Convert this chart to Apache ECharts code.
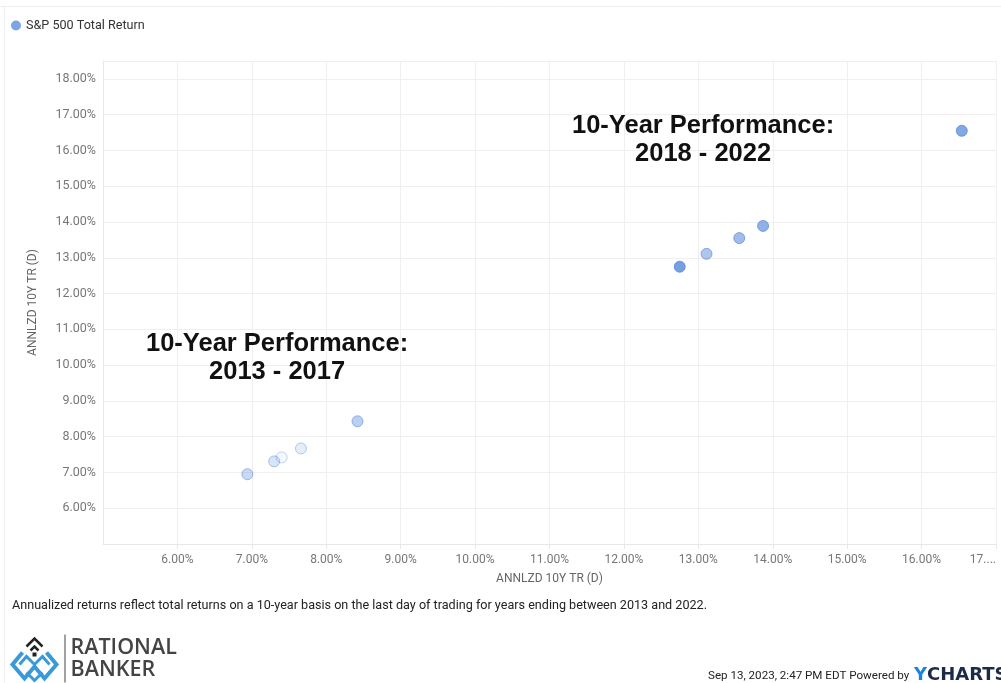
<!DOCTYPE html>
<html>
<head>
<meta charset="utf-8">
<script src="https://cdn.jsdelivr.net/npm/echarts@6/dist/echarts.min.js"></script>
<style>
  html, body { margin: 0; padding: 0; background: #fff; }
  #chartDom { width: 1001px; height: 683px; }
</style>
</head>
<body>
<div id="chartDom"></div>
<script>
// 年份 2013 - 2022（越新越不透明）
const years = [2013, 2014, 2015, 2016, 2017, 2018, 2019, 2020, 2021, 2022];
// x / y 都是 10 年年化总回报 (%)
const xReturn = [7.40, 7.66, 7.30, 6.94, 8.42, 13.11, 13.55, 13.87, 16.54, 12.75];
const yReturn = [7.42, 7.67, 7.31, 6.95, 8.43, 13.11, 13.55, 13.89, 16.55, 12.75];

const seriesName = 'S&P 500 Total Return';
const axisName = 'ANNLZD 10Y TR (D)';
const noteText = 'Annualized returns reflect total returns on a 10-year basis on the last day of trading for years ending between 2013 and 2022.';

const baseColor = '#4f84d9';
const font = 'Roboto';

let chart = echarts.init(document.getElementById('chartDom'));

const points = years.map((y, i) => ({
  name: String(y),
  value: [xReturn[i], yReturn[i]],
  itemStyle: {
    color: 'rgba(79,132,217,' + (0.08 + 0.1 * i).toFixed(2) + ')',
    borderColor: 'rgba(79,132,217,' + Math.min(1, 0.45 + 0.06 * i).toFixed(2) + ')',
    borderWidth: 1
  }
}));

chart.setOption({
  animation: false,
  textStyle: { fontFamily: font },
  legend: {
    data: [{ name: seriesName, itemStyle: { color: '#5b8ee0', borderWidth: 0 } }],
    left: 6,
    top: 14,
    icon: 'circle',
    itemWidth: 10,
    itemHeight: 10,
    itemGap: 4,
    textStyle: { fontSize: 12.6, color: '#333', fontFamily: font }
  },
  grid: { left: 103, right: 5, top: 61, bottom: 139 },
  xAxis: {
    type: 'value',
    min: 5,
    max: 17,
    interval: 1,
    name: axisName,
    nameLocation: 'middle',
    nameGap: 29,
    nameTextStyle: { color: '#666', fontSize: 12 },
    axisLine: { show: true, lineStyle: { color: '#e8e8e8' } },
    axisTick: { show: true, length: 5, lineStyle: { color: '#e8e8e8' } },
    splitLine: { show: true, lineStyle: { color: '#efefef' } },
    axisLabel: {
      color: '#777',
      fontSize: 12,
      margin: 10,
      showMinLabel: false,
      alignMaxLabel: 'right',
      formatter: v => v === 17 ? '17....' : v.toFixed(2) + '%'
    }
  },
  yAxis: {
    type: 'value',
    min: 5,
    max: 18.5,
    interval: 1,
    name: axisName,
    nameLocation: 'middle',
    nameGap: 64,
    nameTextStyle: { color: '#666', fontSize: 12 },
    axisLine: { show: true, lineStyle: { color: '#e8e8e8' } },
    axisTick: { show: false },
    splitLine: { show: true, lineStyle: { color: '#efefef' } },
    axisLabel: {
      color: '#777',
      fontSize: 12.5,
      margin: 7,
      showMinLabel: false,
      showMaxLabel: false,
      formatter: v => v.toFixed(2) + '%'
    }
  },
  series: [{
    name: seriesName,
    type: 'scatter',
    symbolSize: 11,
    itemStyle: { color: baseColor },
    data: points
  }],
  graphic: [
    // 外框线
    { type: 'line', shape: { x1: 0, y1: 6.5, x2: 1001, y2: 6.5 }, style: { stroke: '#eee', lineWidth: 1 } },
    { type: 'line', shape: { x1: 4.5, y1: 6, x2: 4.5, y2: 683 }, style: { stroke: '#f0f0f0', lineWidth: 1 } },
    // 注释文字
    {
      type: 'text', left: 572, top: 112, z: 100,
      style: {
        text: '10-Year Performance:\n2018 - 2022',
        font: 'bold 25.5px "Liberation Sans", Arial',
        fill: '#111', textAlign: 'center', lineHeight: 28
      }
    },
    {
      type: 'text', left: 146, top: 330, z: 100,
      style: {
        text: '10-Year Performance:\n2013 - 2017',
        font: 'bold 25.5px "Liberation Sans", Arial',
        fill: '#111', textAlign: 'center', lineHeight: 28
      }
    },
    // 底部说明
    {
      type: 'text', left: 12, top: 599,
      style: { text: noteText, font: '12.6px Roboto', fill: '#222' }
    },
    // logo
    {
      type: 'group', left: 10, top: 632,
      children: [
        { type: 'polyline', shape: { points: [[16, 12], [24, 4], [32, 12]] }, style: { stroke: '#222', lineWidth: 2.5, fill: null } },
        { type: 'polyline', shape: { points: [[20, 16], [24, 12], [28, 16]] }, style: { stroke: '#222', lineWidth: 2.5, fill: null } },
        { type: 'rect', shape: { x: 22, y: 18, width: 4, height: 4 }, style: { fill: '#222' } },
        { type: 'polyline', shape: { points: [[12, 18], [2, 30], [14, 44], [24, 32], [34, 44], [46, 30], [36, 18]] }, style: { stroke: '#3a9ad9', lineWidth: 4, fill: null } },
        { type: 'polyline', shape: { points: [[9, 30], [16, 22], [24, 30], [32, 22], [39, 30]] }, style: { stroke: '#3a9ad9', lineWidth: 3, fill: null } },
        { type: 'polyline', shape: { points: [[16, 38], [24, 46], [32, 38]] }, style: { stroke: '#3a9ad9', lineWidth: 3, fill: null } },
        { type: 'line', shape: { x1: 54.5, y1: 0, x2: 54.5, y2: 48 }, style: { stroke: '#444', lineWidth: 1 } },
        { type: 'text', left: 60, top: 2, style: { text: 'RATIONAL', font: '600 21.5px "Open Sans", sans-serif', fill: '#444' } },
        { type: 'text', left: 60, top: 24, style: { text: 'BANKER', font: '600 21.5px "Open Sans", sans-serif', fill: '#444' } }
      ]
    },
    // 时间戳 / Powered by
    {
      type: 'text', left: 708, top: 670,
      style: { text: 'Sep 13, 2023, 2:47 PM EDT Powered by', font: '11.6px Roboto', fill: '#222' }
    },
    {
      type: 'text', left: 914, top: 666,
      style: {
        text: '{y|Y}{c|CHARTS}',
        rich: {
          y: { font: 'bold 18px "DejaVu Sans", sans-serif', fill: '#1a82e2', color: '#1a82e2' },
          c: { font: 'bold 18px "DejaVu Sans", sans-serif', fill: '#1b2b48', color: '#1b2b48' }
        }
      }
    }
  ]
});
</script>
</body>
</html>
